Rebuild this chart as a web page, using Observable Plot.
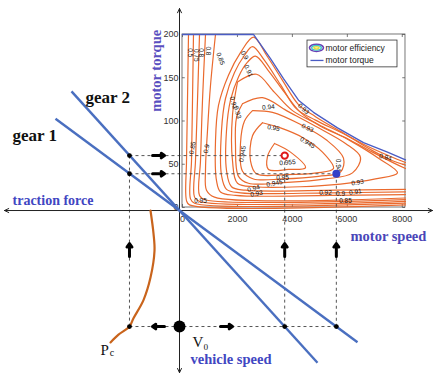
<!DOCTYPE html>
<html><head><meta charset="utf-8">
<script src="https://cdn.jsdelivr.net/npm/d3@7"></script>
<script src="https://cdn.jsdelivr.net/npm/@observablehq/plot@0.6"></script>
<style>body{margin:0;background:#fff;} svg{display:block;}</style>
</head><body><div id="chart"></div>
<script>
// ---------- data (motor speed in rpm, motor torque in Nm; the traction-force and
// vehicle-speed quadrants are drawn in the same diagram units) ----------
const speedTicks = [0, 2000, 4000, 6000, 8000];
const torqueTicks = [0, 50, 100, 150, 200];

const envelopeSpeed  = [0, 2584, 3203, 3676, 4222, 4768, 5642, 6588, 7462, 8117];
const envelopeTorque = [200, 200, 172, 149, 124, 110, 92, 75, 64, 55];

const contourLevels = ["0.5","0.75","0.8","0.8b","0.85","0.9","0.91","0.92","0.93","0.94","0.945","0.95","0.955"];
const contourSpeeds = [
  [218,182,146,146,255,8117],
  [400,364,328,291,437,8117],
  [619,546,473,437,619,8117],
  [837,728,655,619,837,8117],
  [1201,1019,910,837,874,1165,8117],
  [8117,5387,1929,1383,1238,1201,1310,1674,2111,2584,3058,3640,4222,4841,5751,6661,7571,8117],
  [8117,5387,2111,1602,1420,1420,1565,1893,2257,2548,2985,3567,4150,4841,5933,6843,7644,8117],
  [8117,5569,2293,1784,1602,1602,1747,2038,2366,2657,3130,3713,4295,5023,6042,6916,7717,8117],
  [2002,2694,3349,4004,4950,6115,7134,7826,7025,5751,4295,2657,2002,1820,1820,2002],
  [2184,2912,3786,4841,5933,6479,6188,5205,3822,2402,2038,1929,1966,2184],
  [2548,3276,4295,5242,5860,5751,4950,3640,2584,2184,2111,2257,2548],
  [2912,3567,4368,5096,5496,4877,3749,2694,2475,2548,2912],
  [3349,3931,4477,3858,3130,3094,3349]
];
const contourTorques = [
  [200,124,54,8,3,3],
  [200,124,54,10,5,5],
  [200,124,54,12,7,7],
  [200,124,54,14,9,9],
  [200,141,89,43,20,12,11],
  [15,14,14,18,31,77,118,153,179,197,176,147,119,105,88,72,59,52],
  [18,17,17,21,37,89,126,156,176,186,170,142,114,101,84,67,54,49],
  [21,20,20,24,43,89,124,151,168,175,158,133,110,94,79,64,51,45],
  [145,154,133,112,96,77,57,40,33,27,24,24,28,54,107,145],
  [120,127,112,94,74,58,40,33,29,28,36,72,104,120],
  [112,110,96,78,57,41,36,33,33,42,74,100,112],
  [98,92,81,64,45,40,38,39,54,83,98],
  [74,64,46,44,44,59,74]
];

const contourLabelText   = ["0.5","0.75","0.8","0.8","0.85","0.9","0.91","0.92","0.93","0.94","0.95","0.93","0.945","0.955","0.945","0.95","0.945","0.94","0.93","0.93","0.92","0.91","0.9","0.94","0.94","0.93","0.85","0.9","0.95","0.85"];
const contourLabelSpeed  = [291,510,692,946,1383,2257,2402,1856,2002,3130,3312,4550,4550,3822,2184,3640,3349,2584,2694,6370,5205,6297,5751,5678,7389,4404,364,874,655,5933];
const contourLabelTorque = [179,176,179,181,172,176,158,121,110,116,92,92,75,52,62,34,28,22,16,29,17,18,16,49,58,114,69,68,8,8];
const contourLabelAngle  = [90,90,90,90,70,60,65,75,75,-5,10,25,30,-5,-80,0,-10,-15,-10,-10,0,-10,0,90,15,45,-80,-80,0,0];

const gearNames  = ["gear 1", "gear 2"];
const gearStartX = [-4623, -4040], gearStartY = [102.5, 134.2];
const gearEndX   = [6370, 4914],   gearEndY   = [-155.7, -179.4];
const gearLabelX = [-6188, -3531], gearLabelY = [83, 127];

const tractionForce = -1930;        // operating traction force
const opSpeed  = [5600, 3720];      // gear 1 (blue), gear 2 (red)
const opTorque = [39, 60];
const v0Level = -137.6;             // vehicle speed V0
const originX = -109, originY = -3.5;

const pcX = [-1165,-1056,-1019,-1165,-1420,-1784,-1930,-2330,-2621];
const pcY = [-3.5,-30,-50,-81,-107,-128,-137.6,-147,-156];

// ---------- derived tables ----------
const envelope = envelopeSpeed.map((s,i)=>({s, t: envelopeTorque[i]}));
const contours = contourLevels.flatMap((lv,k)=>contourSpeeds[k].map((s,i)=>({lv, s, t: contourTorques[k][i]})));
const clabels = contourLabelText.map((txt,i)=>({txt, s: contourLabelSpeed[i], t: contourLabelTorque[i], a: contourLabelAngle[i]}));
const gears = gearNames.map((g,i)=>({g, x1: gearStartX[i], y1: gearStartY[i], x2: gearEndX[i], y2: gearEndY[i], lx: gearLabelX[i], ly: gearLabelY[i]}));
const pc = pcX.map((x,i)=>({x, y: pcY[i]}));

const dashed = [
  ...opTorque.map((t,i)=>({x1: tractionForce, y1: t, x2: opSpeed[i], y2: t})),
  {x1: tractionForce, y1: Math.max(...opTorque), x2: tractionForce, y2: v0Level},
  ...opTorque.map((t,i)=>({x1: opSpeed[i], y1: t, x2: opSpeed[i], y2: v0Level})),
  {x1: tractionForce, y1: v0Level, x2: Math.max(...opSpeed), y2: v0Level}
];
const smallDots = [
  ...opTorque.map(t=>({x: tractionForce, y: t})),
  {x: tractionForce, y: v0Level},
  ...opSpeed.map(s=>({x: s, y: v0Level}))
];
const flowArrows = [
  ...opTorque.map(t=>({x1: tractionForce+840, y1: t, x2: tractionForce+1275, y2: t})),
  ...[tractionForce, ...opSpeed].map(s=>({x1: s, y1: v0Level+81, x2: s, y2: v0Level+96})),
  {x1: originX-546, y1: v0Level, x2: originX-983, y2: v0Level},
  {x1: originX+1492, y1: v0Level, x2: originX+1929, y2: v0Level}
];
const mainAxes = [
  {x1: originX, y1: originY, x2: originX, y2: 230},
  {x1: originX, y1: originY, x2: originX, y2: -191},
  {x1: originX, y1: originY, x2: -6480, y2: originY},
  {x1: originX, y1: originY, x2: 9100, y2: originY}
];

const serif = "'Liberation Serif','Times New Roman',serif";
const sans = "'Liberation Sans',Arial,sans-serif";
const blueText = "#4146c2";

const chart = Plot.plot({
  width: 434, height: 373, margin: 0,
  x: {domain: [-6625, 9173], axis: null},
  y: {domain: [-191.9, 239.3], axis: null},
  marks: [
    // contour box frame and ticks
    Plot.rect([0], {x1: 0, x2: 8117, y1: 0, y2: 200, fill: "white", stroke: "#555", strokeWidth: 0.8}),
    Plot.ruleX(speedTicks, {x: d=>d, y1: 0, y2: 3.5, stroke: "#555", strokeWidth: 0.8}),
    Plot.ruleX(speedTicks, {x: d=>d, y1: 200, y2: 196.5, stroke: "#555", strokeWidth: 0.8}),
    Plot.ruleY(torqueTicks, {y: d=>d, x1: 8117, x2: 8017, stroke: "#555", strokeWidth: 0.8}),
    Plot.ruleY(torqueTicks, {y: d=>d, x1: 0, x2: 100, stroke: "#555", strokeWidth: 0.8}),
    // efficiency contours
    Plot.line(contours, {x: "s", y: "t", z: "lv", stroke: "#ea6a2e", strokeWidth: 1.2, curve: "catmull-rom"}),
    Plot.text(clabels, {x: "s", y: "t", text: "txt", rotate: "a", fontSize: 6.5, fill: "#111", fontFamily: sans}),
    // torque envelope
    Plot.line(envelope, {x: "s", y: "t", stroke: "#4a5cc4", strokeWidth: 1.3}),
    // dashed construction lines
    Plot.link(dashed, {x1: "x1", y1: "y1", x2: "x2", y2: "y2", stroke: "#555", strokeWidth: 1, strokeDasharray: "3,3"}),
    // main axes
    Plot.arrow(mainAxes, {x1: "x1", y1: "y1", x2: "x2", y2: "y2", stroke: "#222", strokeWidth: 1, headLength: 7, headAngle: 50}),
    // tick labels
    Plot.text(speedTicks, {x: d=>d, y: -13, text: d=>String(d), fontSize: 9, fill: "#333", fontFamily: sans}),
    Plot.text(torqueTicks, {x: -146, y: d=>d, text: d=>String(d), textAnchor: "end", fontSize: 9, fill: "#333", fontFamily: sans}),
    // gear lines
    Plot.link(gears, {x1: "x1", y1: "y1", x2: "x2", y2: "y2", stroke: "#4a6fc0", strokeWidth: 2.4}),
    // Pc curve
    Plot.line(pc, {x: "x", y: "y", stroke: "#c9641c", strokeWidth: 2.2, curve: "catmull-rom"}),
    // flow arrows
    Plot.arrow(flowArrows, {x1: "x1", y1: "y1", x2: "x2", y2: "y2", stroke: "#000", strokeWidth: 3, headLength: 5, headAngle: 70}),
    // dots
    Plot.dot(smallDots, {x: "x", y: "y", r: 2.4, fill: "#000"}),
    Plot.dot([0], {x: originX, y: v0Level, r: 6, fill: "#000"}),
    Plot.dot([0], {x: opSpeed[1], y: opTorque[1], r: 3.2, fill: "white", stroke: "#e01818", strokeWidth: 2}),
    Plot.dot([0], {x: opSpeed[0], y: opTorque[0], r: 4, fill: "#3340c8"}),
    // legend
    Plot.rect([0], {x1: 4550, x2: 7826, y1: 162, y2: 193, fill: "white", stroke: "#333", strokeWidth: 0.8}),
    Plot.text(["motor efficiency"], {x: 5205, y: 184, text: d=>d, textAnchor: "start", fontSize: 8.5, fill: "#222", fontFamily: sans}),
    Plot.text(["motor torque"], {x: 5205, y: 170, text: d=>d, textAnchor: "start", fontSize: 8.5, fill: "#222", fontFamily: sans}),
    Plot.link([0], {x1: 4659, x2: 5132, y1: 170, y2: 170, stroke: "#4a5cc4", strokeWidth: 1.3}),
    // annotations
    Plot.text(gears, {x: "lx", y: "ly", text: "g", textAnchor: "start", fontSize: 17, fontWeight: "bold", fontFamily: serif, fill: "#111"}),
    Plot.text(["traction force"], {x: -6188, y: 8, text: d=>d, textAnchor: "start", fontSize: 14, fontWeight: "bold", fontFamily: serif, fill: blueText}),
    Plot.text(["motor torque"], {x: -946, y: 158, text: d=>d, rotate: -90, fontSize: 14.5, fontWeight: "bold", fontFamily: serif, fill: "#5a4fc0"}),
    Plot.text(["motor speed"], {x: 6115, y: -33, text: d=>d, textAnchor: "start", fontSize: 14.5, fontWeight: "bold", fontFamily: serif, fill: "#4a45b8"}),
    Plot.text(["vehicle speed"], {x: 291, y: -175, text: d=>d, textAnchor: "start", fontSize: 14.5, fontWeight: "bold", fontFamily: serif, fill: blueText}),
    Plot.text(["V₀"], {x: 364, y: -156, text: d=>d, textAnchor: "start", fontSize: 15, fontFamily: serif, fill: "#111"}),
    Plot.text(["P"], {x: -2985, y: -165, text: d=>d, textAnchor: "start", fontSize: 15, fontFamily: serif, fill: "#111"}),
    Plot.text(["c"], {x: -2650, y: -168, text: d=>d, textAnchor: "start", fontSize: 10, fontFamily: serif, fill: "#111"})
  ]
});

// legend ellipse icon, placed with the plot's own scales
const X = chart.scale("x"), Y = chart.scale("y");
const g = d3.select(chart).append("g");
const cx = X.apply(4895), cy = Y.apply(184);
[[7, 3.6, "#6a3fb5", 1.6], [4.8, 2.3, "#3fc4c8", 1.4], [2.6, 1.1, "#e8dc3c", 1.4]].forEach(([rx, ry, c, w]) => {
  g.append("ellipse").attr("cx", cx).attr("cy", cy).attr("rx", rx).attr("ry", ry)
    .attr("fill", "none").attr("stroke", c).attr("stroke-width", w);
});

document.getElementById("chart").appendChild(chart);
</script>
</body></html>
